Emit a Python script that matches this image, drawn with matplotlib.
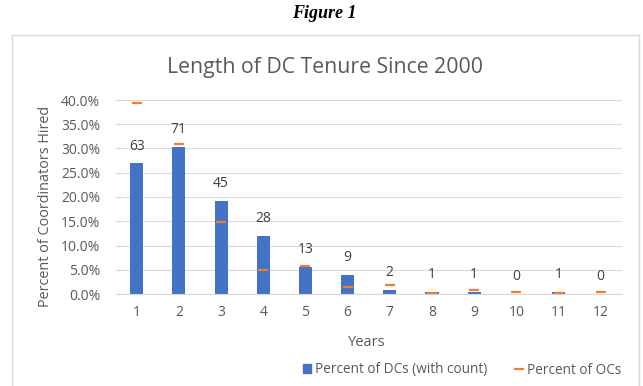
import numpy as np
import matplotlib
matplotlib.use("Agg")
import matplotlib.pyplot as plt
from matplotlib.patches import Rectangle
from matplotlib.lines import Line2D
from matplotlib.ticker import PercentFormatter

# data
years = [1, 2, 3, 4, 5, 6, 7, 8, 9, 10, 11, 12]
dc_counts = [63, 71, 45, 28, 13, 9, 2, 1, 1, 0, 1, 0]
oc_pct = [39.3, 30.9, 14.9, 4.9, 5.8, 1.4, 1.8, 0.2, 0.9, 0.4, 0.2, 0.4]
yticks = [0, 5, 10, 15, 20, 25, 30, 35, 40]

dc_pct = [100.0 * c / sum(dc_counts) for c in dc_counts]

BLUE = "#4472C4"
ORANGE = "#ED7D31"
TXT = "#595959"
GRID = "#D9D9D9"

plt.rcParams['font.family'] = ['Open Sans', 'DejaVu Sans']

W, H = 643, 386
fig = plt.figure(figsize=(W / 100, H / 100), dpi=100)

# chart frame (bottom edge is cut off in the reference)
fig.patches.append(Rectangle((12 / W, -0.05), 627 / W, 1.05 - 35 / H, transform=fig.transFigure,
                             fill=False, edgecolor=GRID, linewidth=1.0))

ax = fig.add_axes([115.6 / W, 1 - 294 / H, 506.2 / W, 194 / H])
ax.bar(years, dc_pct, width=0.31, color=BLUE, zorder=2)
ax.plot(years, oc_pct, linestyle='none', marker='_', markersize=6.5, markeredgewidth=1.6,
        color=ORANGE, zorder=3)

for x, p, c in zip(years, dc_pct, dc_counts):
  ax.annotate(str(c), (x, p), xytext=(0, 12.5), textcoords='offset points',
              ha='center', va='center', fontsize=10, color='#404040')

ax.set_xlim(0.5, 12.5)
ax.set_ylim(0, 40)
ax.set_xticks(years)
ax.set_yticks(yticks)
ax.yaxis.set_major_formatter(PercentFormatter(decimals=1))
ax.tick_params(axis='both', length=0, labelsize=10, labelcolor=TXT)
ax.tick_params(axis='y', pad=11)
ax.tick_params(axis='x', pad=8)
ax.grid(axis='y', color=GRID, linewidth=0.8, zorder=0)
for s in ax.spines.values():
  s.set_visible(False)
ax.spines['bottom'].set_visible(True)
ax.spines['bottom'].set_color(GRID)

fig.text(324 / W, 1 - 13 / H, "Figure 1", ha='center', va='center', fontsize=13,
         family='Liberation Serif', style='italic', weight='bold', color='black')
fig.text(325 / W, 1 - 67 / H, "Length of DC Tenure Since 2000", ha='center', va='center',
         fontsize=15.3, color=TXT)
fig.text(46 / W, 1 - 206 / H, "Percent of Coordinators Hired", ha='center', va='center',
         rotation=90, fontsize=10.4, color=TXT)
fig.text(367 / W, 1 - 342 / H, "Years", ha='center', va='center', fontsize=10.5, color=TXT)

handles = [Rectangle((0, 0), 1, 1, color=BLUE),
           Line2D([], [], linestyle='none', marker='_', markersize=6.5, markeredgewidth=1.6, color=ORANGE)]
fig.legend(handles, ["Percent of DCs (with count)", "Percent of OCs"], loc='center',
           bbox_to_anchor=(462 / W, 1 - 370 / H), ncol=2, frameon=False, fontsize=9.8,
           labelcolor=TXT, handlelength=0.6, handleheight=0.6, handletextpad=0.3, columnspacing=2.0)

fig.savefig("out.png", dpi=100)
